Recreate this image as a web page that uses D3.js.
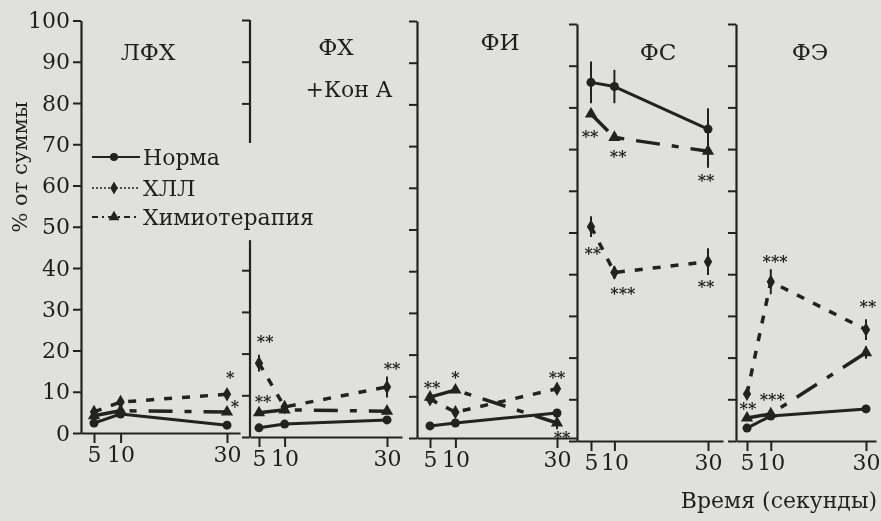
<!DOCTYPE html>
<html><head><meta charset="utf-8">
<script src="https://cdn.jsdelivr.net/npm/d3@7"></script>
<style>
html,body{margin:0;padding:0;background:#e0e0de;}
svg{display:block;filter:grayscale(1);}
text{font-family:"DejaVu Serif",serif;fill:#1f1f1f;}
</style></head><body>
<svg id="c" width="881" height="521"></svg>
<script>
// ---- data ----
const panelNames = ["ЛФХ","ФХ","ФИ","ФС","ФЭ"];
const subTitle = "+Кон А";
const times = [5,10,30];
const yTicks = [0,10,20,30,40,50,60,70,80,90,100];
const seriesNames = ["Норма","ХЛЛ","Химиотерапия"];
const norma = [[2.4,4.6,1.9],[2.2,3.1,4.1],[2.9,3.6,6.0],[86,85,74.8],[3.1,6.0,7.7]];
const hll   = [[5.1,7.5,9.4],[17.7,7.2,12.0],[9.3,6.2,11.8],[51.4,40.4,43.0],[11.3,38.2,26.7]];
const chemo = [[4.2,5.4,5.1],[5.8,6.5,6.2],[9.8,11.5,3.6],[78.4,72.8,69.5],[5.5,6.5,21.2]];
const normaErr = [[0,0,0],[0,0,0],[0,0,0],[5,4,5],[0,0,0]];
const hllErr   = [[0,1,0],[2,0,2.5],[0,0,0],[2.5,1.5,3.2],[0,3,2.5]];
const chemoErr = [[0,0,0],[0,0,0],[0,0,1.5],[0,0,4],[0,0,1.5]];
// significance marks: [panel, time, value, label]
const stars = [
  [0,30.6,14.5,"*"],[0,31.5,7.5,"*"],
  [1,6.2,24,"**"],[1,5.8,9.6,"**"],[1,31,17.3,"**"],
  [2,5.4,13.2,"**"],[2,10,15.6,"*"],[2,30,15.6,"**"],[2,31,1.2,"**"],
  [3,4.8,74,"**"],[3,10.8,69.2,"**"],[3,29.6,63.5,"**"],[3,5.4,45.9,"**"],[3,11.8,36.3,"***"],[3,29.6,38,"**"],
  [4,5.2,8.7,"**"],[4,10.9,44,"***"],[4,10.3,11,"***"],[4,30.4,33.2,"**"]
];

// ---- layout ----
const layout = [
  {ax:81,  right:240, x5:94,  x30:227, top:20.5, bottom:433, tx:148, ty:60},
  {ax:250, right:402, x5:259, x30:387, top:20,   bottom:437, tx:336, ty:55, segs:[[0,47.2],[70.5,100]]},
  {ax:417, right:577, x5:430, x30:557, top:21,   bottom:438, tx:500, ty:50},
  {ax:577, right:723, x5:591, x30:708, top:24,   bottom:441, tx:658, ty:60},
  {ax:736, right:876, x5:747, x30:866, top:24,   bottom:441, tx:810, ty:60}
];
const ink = "#222";
const styles = [
  {data:norma, err:normaErr, dash:null, width:3, sym:d3.symbolCircle, size:64},
  {data:hll, err:hllErr, dash:"8,10", width:3.5, sym:d3.symbolDiamond, size:60},
  {data:chemo, err:chemoErr, dash:"24,12,7,12", width:3.5, sym:d3.symbolTriangle, size:65}
];

const svg = d3.select("#c");

layout.forEach((L,i)=>{
  const xs = d3.scaleLinear().domain([5,30]).range([L.x5,L.x30]);
  const x = d3.scaleLinear().domain([xs.invert(L.ax), xs.invert(L.right)]).range([L.ax,L.right]);
  const y = d3.scaleLinear().domain([0,100]).range([L.bottom,L.top]);
  const g = svg.append("g");

  // y axis
  const inSeg = v => !L.segs || L.segs.some(s=>v>=s[0]-0.01 && v<=s[1]+0.01);
  const yAx = d3.axisLeft(y).tickValues(yTicks.filter(inSeg)).tickSize(8).tickSizeOuter(0).tickPadding(3)
      .tickFormat(i===0 ? d3.format("d") : ()=> "");
  const ya = g.append("g").attr("transform",`translate(${L.ax},0)`).call(yAx);
  ya.selectAll("line").attr("stroke",ink).attr("stroke-width",2);
  ya.select(".domain").attr("stroke",ink).attr("stroke-width",2.2);
  ya.selectAll("text").attr("font-size",22).attr("fill",ink);
  if (L.segs) {
    ya.select(".domain").remove();
    L.segs.forEach(s=>{
      ya.append("line").attr("x1",0).attr("x2",0).attr("y1",y(s[0])).attr("y2",y(s[1]))
        .attr("stroke",ink).attr("stroke-width",2.2);
    });
  }

  // x axis
  const xa = g.append("g").attr("transform",`translate(0,${L.bottom})`)
    .call(d3.axisBottom(x).tickValues(times).tickSize(10).tickSizeOuter(0).tickPadding(3));
  xa.selectAll("line").attr("stroke",ink).attr("stroke-width",2);
  xa.select(".domain").attr("stroke",ink).attr("stroke-width",2.2);
  xa.selectAll("text").attr("font-size",22).attr("fill",ink);

  // title
  g.append("text").attr("x",L.tx).attr("y",L.ty).attr("text-anchor","middle")
    .attr("font-size",23).text(panelNames[i]);
  if (i===1) g.append("text").attr("x",349).attr("y",97).attr("text-anchor","middle")
    .attr("font-size",22).text(subTitle);

  // series
  styles.forEach(S=>{
    const vals = S.data[i].map((v,k)=>({t:times[k], v, e:S.err[i][k]}));
    const line = d3.line().x(d=>x(d.t)).y(d=>y(d.v));
    g.append("path").datum(vals).attr("d",line).attr("fill","none")
      .attr("stroke",ink).attr("stroke-width",S.width)
      .attr("stroke-dasharray",S.dash).attr("stroke-linejoin","round");
    g.selectAll(null).data(vals.filter(d=>d.e>0)).join("line")
      .attr("x1",d=>x(d.t)).attr("x2",d=>x(d.t))
      .attr("y1",d=>y(d.v-d.e)).attr("y2",d=>y(d.v+d.e))
      .attr("stroke",ink).attr("stroke-width",2);
    g.selectAll(null).data(vals).join("path")
      .attr("transform",d=>`translate(${x(d.t)},${y(d.v)})`)
      .attr("d",d3.symbol().type(S.sym).size(S.size)).attr("fill",ink);
  });

  // stars
  g.selectAll(null).data(stars.filter(s=>s[0]===i)).join("text")
    .attr("x",s=>x(s[1])).attr("y",s=>y(s[2])).attr("dy","0.6em")
    .attr("text-anchor","middle").attr("font-size",16).attr("font-weight","bold").text(s=>s[3]);
});

// legend
const leg = svg.append("g");
const legY = [157,188,217];
const legDash = [null,"2,2","6,4,2,4"];
const legW = [2,1.6,2];
styles.forEach((S,k)=>{
  leg.append("line").attr("x1",92).attr("x2",140).attr("y1",legY[k]).attr("y2",legY[k])
    .attr("stroke",ink).attr("stroke-width",legW[k]).attr("stroke-dasharray",legDash[k]);
  leg.append("path").attr("transform",`translate(114,${legY[k]})`)
    .attr("d",d3.symbol().type(S.sym).size(S.size*0.8)).attr("fill",ink);
  leg.append("text").attr("x",143).attr("y",legY[k]).attr("dy","0.36em")
    .attr("font-size",22).text(seriesNames[k]);
});

// axis titles
svg.append("text").attr("transform","translate(27,167) rotate(-90)")
  .attr("text-anchor","middle").attr("font-size",21).text("% от суммы");
svg.append("text").attr("x",877).attr("y",508).attr("text-anchor","end")
  .attr("font-size",22).text("Время (секунды)");
</script>
</body></html>
